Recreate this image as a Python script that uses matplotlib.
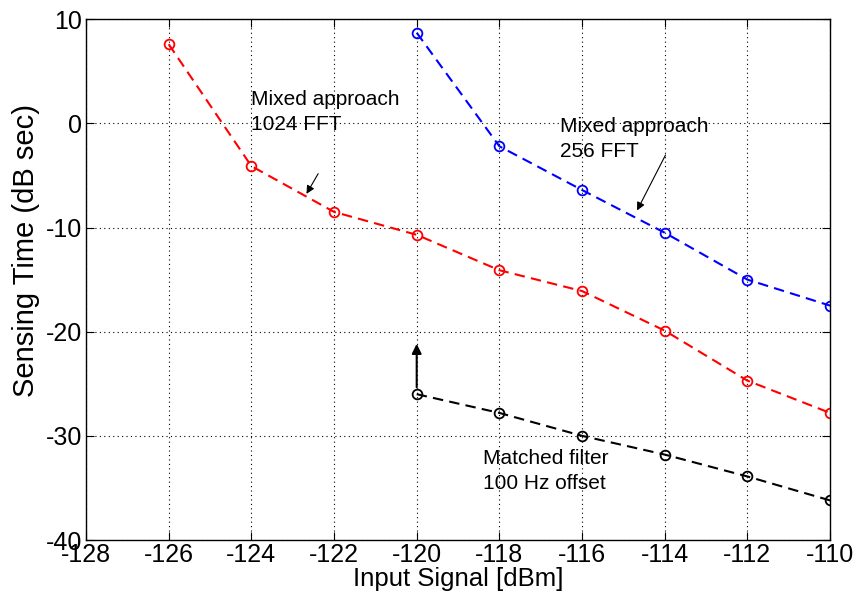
import matplotlib
matplotlib.use("Agg")
import matplotlib.pyplot as plt
import numpy as np

plt.rcParams['font.family'] = ['Liberation Sans', 'DejaVu Sans']
plt.rcParams['axes.unicode_minus'] = False

# input signal levels (dBm)
x_1024 = [-126, -124, -122, -120, -118, -116, -114, -112, -110]
t_1024 = [7.6, -4.1, -8.5, -10.7, -14.1, -16.1, -19.9, -24.7, -27.8]

x_256 = [-120, -118, -116, -114, -112, -110]
t_256 = [8.7, -2.2, -6.4, -10.5, -15.0, -17.5]

x_mf = [-120, -118, -116, -114, -112, -110]
t_mf = [-26.0, -27.8, -30.0, -31.8, -33.9, -36.2]

fig = plt.figure(figsize=(8.54, 6.0), dpi=100)
ax = fig.add_axes([0.1007, 0.1, 0.8713, 0.868])

style = dict(linestyle='--', linewidth=1.5, marker='o', markersize=7,
             markerfacecolor='none', markeredgewidth=1.3, dashes=(5, 3))
ax.plot(x_1024, t_1024, color='#ff0000', **style)
ax.plot(x_256, t_256, color='#0000ff', **style)
ax.plot(x_mf, t_mf, color='black', **style)

ax.set_xlim(-128, -110)
ax.set_ylim(-40, 10)
ax.set_xticks(np.arange(-128, -109, 2))
ax.set_yticks(np.arange(-40, 11, 10))
ax.grid(True, linestyle=(0, (1, 3)), color='black', linewidth=0.8)
ax.tick_params(direction='in', top=True, right=True, labelsize=18, length=6)
ax.tick_params(axis='x', pad=2)
ax.tick_params(axis='y', pad=3)
for s in ax.spines.values():
    s.set_linewidth(1.0)

ax.set_xlabel('Input Signal [dBm]', fontsize=18.5, labelpad=0)
ax.set_ylabel('Sensing Time (dB sec)', fontsize=21, labelpad=0)
ax.yaxis.set_label_coords(-0.062, 0.555)

fs = 15
ax.text(-124.0, 3.2, 'Mixed approach\n1024 FFT', fontsize=fs,
        va='top', ha='left', linespacing=1.4)
ax.annotate('', xy=(-122.7, -7.0), xytext=(-122.35, -4.6),
            arrowprops=dict(arrowstyle='-|>', color='black', lw=0.8, mutation_scale=12))

ax.text(-116.53, 0.6, 'Mixed approach\n256 FFT', fontsize=fs,
        va='top', ha='left', linespacing=1.4)
ax.annotate('', xy=(-114.7, -8.6), xytext=(-113.95, -2.8),
            arrowprops=dict(arrowstyle='-|>', color='black', lw=0.8, mutation_scale=12))

ax.text(-118.4, -31.3, 'Matched filter\n100 Hz offset', fontsize=fs,
        va='top', ha='left', linespacing=1.4)
ax.annotate('', xy=(-120, -20.9), xytext=(-120, -25.6),
            arrowprops=dict(arrowstyle='-|>', color='black', lw=1.5, mutation_scale=14))

plt.savefig('out.png', dpi=100)
